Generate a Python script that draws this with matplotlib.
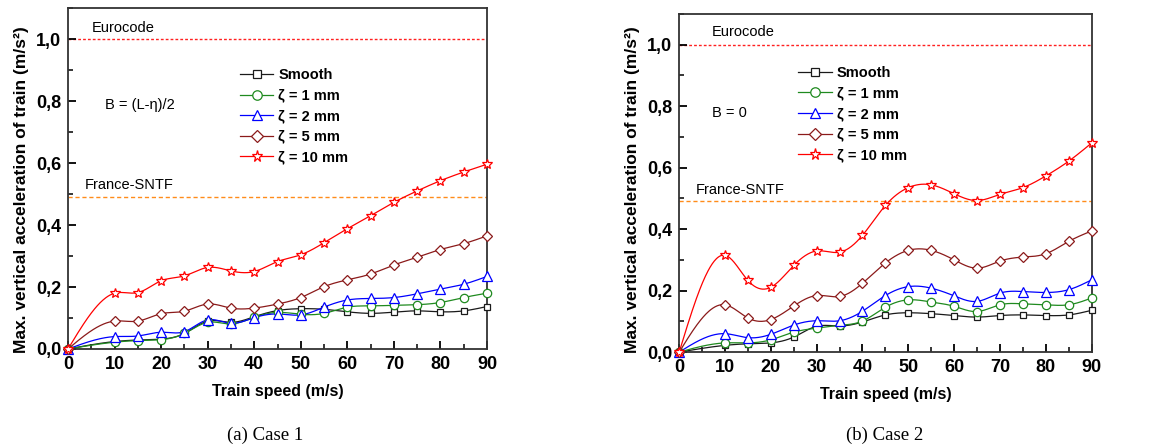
import numpy as np
import matplotlib
matplotlib.use("Agg")
import matplotlib.pyplot as plt
from matplotlib.lines import Line2D
from matplotlib.ticker import MultipleLocator, FuncFormatter

plt.rcParams['font.family'] = ['Liberation Sans', 'DejaVu Sans']

speed = [0, 10, 15, 20, 25, 30, 35, 40, 45, 50, 55, 60, 65, 70, 75, 80, 85, 90]

# Case 1
c1_smooth = [0, 0.024, 0.029, 0.032, 0.050, 0.090, 0.086, 0.104, 0.124, 0.130, 0.128, 0.120, 0.115, 0.119, 0.123, 0.120, 0.123, 0.137]
c1_z1 = [0, 0.022, 0.027, 0.030, 0.050, 0.086, 0.081, 0.102, 0.118, 0.112, 0.115, 0.135, 0.139, 0.141, 0.143, 0.150, 0.166, 0.180]
c1_z2 = [0, 0.040, 0.042, 0.054, 0.056, 0.094, 0.083, 0.101, 0.113, 0.110, 0.135, 0.158, 0.163, 0.166, 0.178, 0.193, 0.209, 0.234]
c1_z5 = [0, 0.090, 0.090, 0.114, 0.122, 0.145, 0.132, 0.132, 0.145, 0.166, 0.201, 0.223, 0.242, 0.271, 0.296, 0.321, 0.340, 0.365]
c1_z10 = [0, 0.180, 0.182, 0.220, 0.236, 0.263, 0.252, 0.250, 0.282, 0.304, 0.343, 0.388, 0.430, 0.473, 0.510, 0.543, 0.571, 0.596]

# Case 2
c2_smooth = [0, 0.022, 0.027, 0.030, 0.049, 0.084, 0.085, 0.098, 0.121, 0.128, 0.125, 0.119, 0.114, 0.119, 0.121, 0.119, 0.121, 0.136]
c2_z1 = [0, 0.030, 0.030, 0.040, 0.065, 0.078, 0.087, 0.101, 0.146, 0.170, 0.163, 0.149, 0.132, 0.154, 0.157, 0.154, 0.154, 0.176]
c2_z2 = [0, 0.060, 0.047, 0.058, 0.088, 0.102, 0.102, 0.133, 0.184, 0.213, 0.208, 0.183, 0.165, 0.192, 0.197, 0.194, 0.203, 0.235]
c2_z5 = [0, 0.154, 0.111, 0.106, 0.150, 0.184, 0.181, 0.224, 0.290, 0.331, 0.331, 0.300, 0.273, 0.296, 0.309, 0.320, 0.360, 0.394]
c2_z10 = [0, 0.315, 0.233, 0.211, 0.282, 0.329, 0.325, 0.380, 0.477, 0.535, 0.544, 0.515, 0.493, 0.513, 0.535, 0.573, 0.621, 0.680]

labels = ['Smooth', 'ζ = 1 mm', 'ζ = 2 mm', 'ζ = 5 mm', 'ζ = 10 mm']
colors = ['#1a1a1a', '#1f8a1f', '#0000ff', '#8b1a1a', '#ff0000']
markers = ['s', 'o', '^', 'D', '*']
msizes = [5.0, 6.0, 6.5, 5.5, 7.5]

eurocode = 1.0
sntf = 0.49


def natural_spline(x, y, n=600):
    x = np.asarray(x, float)
    y = np.asarray(y, float)
    m = len(x)
    h = np.diff(x)
    A = np.zeros((m, m))
    r = np.zeros(m)
    A[0, 0] = 1
    A[-1, -1] = 1
    for i in range(1, m - 1):
        A[i, i - 1] = h[i - 1]
        A[i, i] = 2 * (h[i - 1] + h[i])
        A[i, i + 1] = h[i]
        r[i] = 6 * ((y[i + 1] - y[i]) / h[i] - (y[i] - y[i - 1]) / h[i - 1])
    M = np.linalg.solve(A, r)
    xs = np.linspace(x[0], x[-1], n)
    idx = np.clip(np.searchsorted(x, xs) - 1, 0, m - 2)
    x0 = x[idx]; x1 = x[idx + 1]; hh = x1 - x0
    a = (x1 - xs) / hh; b = (xs - x0) / hh
    ys = (a * y[idx] + b * y[idx + 1]
          + ((a ** 3 - a) * M[idx] + (b ** 3 - b) * M[idx + 1]) * hh ** 2 / 6)
    return xs, ys


fig = plt.figure(figsize=(11.65, 4.48), dpi=100)
ax1 = fig.add_axes([0.0584, 0.221, 0.3596, 0.761])
ax2 = fig.add_axes([0.583, 0.214, 0.354, 0.755])

cases = [
    (ax1, [c1_smooth, c1_z1, c1_z2, c1_z5, c1_z10], 'B = (L-η)/2', (5.2, 1.035), (3.6, 0.528), (7.9, 0.787), (0.41, 0.824), 0.468),
    (ax2, [c2_smooth, c2_z1, c2_z2, c2_z5, c2_z10], 'B = 0', (7.0, 1.04), (3.7, 0.526), (7.2, 0.777), (0.288, 0.846), 0.479),
]

for ax, series, btxt, epos, spos, bpos, lpos, ylab_y in cases:
    handles = []
    for k, ys in enumerate(series):
        xs_s, ys_s = natural_spline(speed, ys)
        ax.plot(xs_s, ys_s, color=colors[k], lw=0.9, zorder=2 + k * 0.1, clip_on=False)
        ax.plot(speed, ys, linestyle='none', marker=markers[k], markersize=msizes[k],
                markerfacecolor='white', markeredgecolor=colors[k], markeredgewidth=0.9,
                zorder=3 + k * 0.1, clip_on=False)
        handles.append(Line2D([], [], color=colors[k], lw=0.9, marker=markers[k],
                              markersize=msizes[k] + 0.8, markerfacecolor='white',
                              markeredgecolor=colors[k], markeredgewidth=0.9))
    ax.axhline(eurocode, color='#ff2020', lw=1.0, linestyle=(0, (2, 1.5)), zorder=1)
    ax.axhline(sntf, color='#ff8c1a', lw=1.0, linestyle=(0, (3, 2)), zorder=1)
    ax.text(epos[0], epos[1], 'Eurocode', fontsize=10.5, va='center', ha='left')
    ax.text(spos[0], spos[1], 'France-SNTF', fontsize=10.5, va='center', ha='left')
    ax.text(bpos[0], bpos[1], btxt, fontsize=10.5, va='center', ha='left')

    leg = ax.legend(handles, labels, loc='upper left', bbox_to_anchor=(lpos[0], lpos[1]),
                    frameon=False, handlelength=2.3, handletextpad=0.35, labelspacing=0.45,
                    borderaxespad=0, borderpad=0,
                    prop={'family': 'Liberation Sans', 'weight': 'bold', 'size': 10.5})

    ax.set_xlim(0, 90)
    ax.set_ylim(0, 1.1)
    ax.xaxis.set_major_locator(MultipleLocator(10))
    ax.xaxis.set_minor_locator(MultipleLocator(5))
    ax.yaxis.set_major_locator(MultipleLocator(0.2))
    ax.yaxis.set_minor_locator(MultipleLocator(0.1))
    ax.yaxis.set_major_formatter(FuncFormatter(lambda v, p: f'{v:.1f}'.replace('.', ',')))
    ax.tick_params(axis='both', which='major', direction='in', length=6, width=1.3,
                   labelsize=13, pad=5)
    ax.tick_params(axis='both', which='minor', direction='in', length=3.5, width=1.1)
    ax.tick_params(top=False, right=False, which='both')
    for lab in ax.get_xticklabels() + ax.get_yticklabels():
        lab.set_fontweight('bold')
    for s in ax.spines.values():
        s.set_linewidth(1.3)
        s.set_color('#333333')
    ax.set_xlabel('Train speed (m/s)', fontsize=11.5, fontweight='bold', labelpad=8)
    ax.set_ylabel('Max. vertical acceleration of train (m/s²)', fontsize=12.5,
                  fontweight='bold', labelpad=5, y=ylab_y)

fig.text(0.228, 0.029, '(a) Case 1', fontsize=13.5, family='Liberation Serif', ha='center', va='center')
fig.text(0.759, 0.029, '(b) Case 2', fontsize=13.5, family='Liberation Serif', ha='center', va='center')

fig.savefig('out.png', dpi=100)
